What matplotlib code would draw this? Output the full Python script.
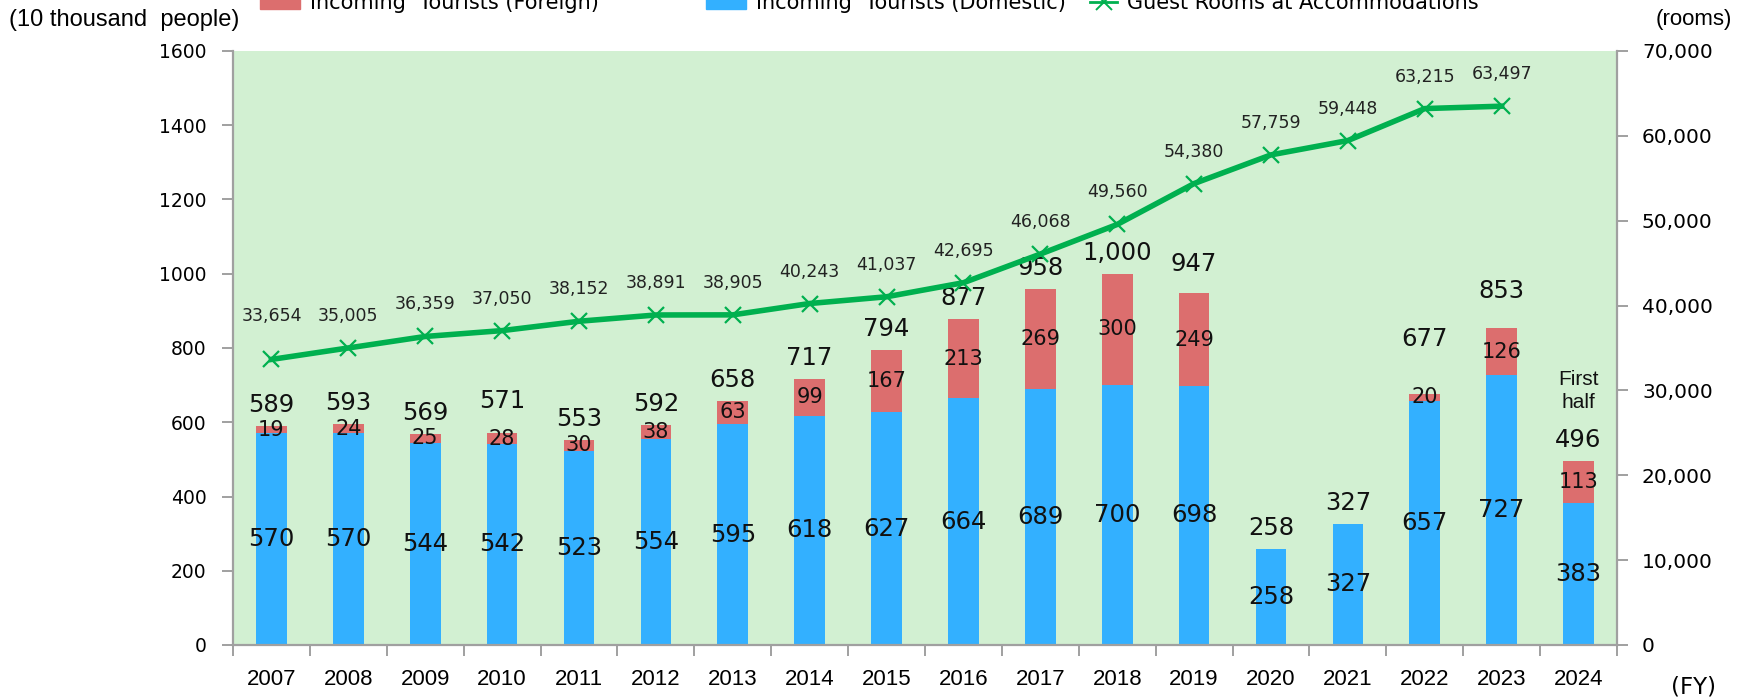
import numpy as np
import matplotlib
matplotlib.use('Agg')
import matplotlib.pyplot as plt
from matplotlib.patches import Patch
from matplotlib.lines import Line2D
from matplotlib.ticker import FuncFormatter, FixedLocator

# ---------------- data ----------------
years = [str(y) for y in range(2007, 2025)]
domestic = [570, 570, 544, 542, 523, 554, 595, 618, 627, 664, 689, 700, 698, 258, 327, 657, 727, 383]
foreign = [19, 24, 25, 28, 30, 38, 63, 99, 167, 213, 269, 300, 249, 0, 0, 20, 126, 113]
totals = [589, 593, 569, 571, 553, 592, 658, 717, 794, 877, 958, 1000, 947, 258, 327, 677, 853, 496]
rooms = [33654, 35005, 36359, 37050, 38152, 38891, 38905, 40243, 41037, 42695,
         46068, 49560, 54380, 57759, 59448, 63215, 63497]
left_ticks = [0, 200, 400, 600, 800, 1000, 1200, 1400, 1600]
right_ticks = [0, 10000, 20000, 30000, 40000, 50000, 60000, 70000]

# ---------------- style ----------------
C_DOM = '#33b0ff'
C_FOR = '#dc6e6e'
C_LINE = '#00b04f'
C_BG = '#d2f0d2'
C_AX = '#a0a0a0'
NUM_FONT = 'DejaVu Sans'
ARIAL = 'Liberation Sans'

# label nudges (pixels) for total labels
total_pad = {3: 32, 12: 29, 15: 55, 16: 37}
room_pad = {0: 43}

W, H = 1756, 700
fig = plt.figure(figsize=(W / 100, H / 100), dpi=100)
L, R, T, B = 233, 1617, 51, 645
ax = fig.add_axes([L / W, 1 - B / H, (R - L) / W, (B - T) / H])
ax.set_facecolor(C_BG)

x = np.arange(len(years))
bw = 0.40
ax.bar(x, domestic, width=bw, color=C_DOM, zorder=2)
ax.bar(x, foreign, bottom=domestic, width=bw, color=C_FOR, zorder=2)
ax.set_xlim(-0.5, len(years) - 0.5)
ax.set_ylim(0, 1600)

px2pt = 0.72
for i in range(len(years)):
    d = domestic[i]
    f = foreign[i]
    ax.text(x[i], d / 2, f'{d}', ha='center', va='center', fontsize=17.5,
            family=NUM_FONT, color='#111111', zorder=4)
    if f > 0:
        ax.text(x[i], d + f / 2, f'{f}', ha='center', va='center', fontsize=15,
                family=NUM_FONT, color='#111111', zorder=4)
    top = d + f
    pad = total_pad.get(i, 21)
    lab = f'{totals[i]:,}'
    ax.annotate(lab, (x[i], top), xytext=(0, pad * px2pt), textcoords='offset points',
                ha='center', va='center', fontsize=17.5, family=NUM_FONT,
                color='#111111', zorder=4)

# "First half" note for last bar
last = len(years) - 1
ax.annotate('First\nhalf', (x[last], domestic[last] + foreign[last]),
            xytext=(0, 70 * px2pt), textcoords='offset points', ha='center',
            va='center', fontsize=15, family=ARIAL, color='#111111',
            linespacing=1.25, zorder=4)

# axes styling (left)
ax.spines['top'].set_visible(False)
ax.spines['right'].set_visible(False)
for s in ['left', 'bottom']:
    ax.spines[s].set_color(C_AX)
    ax.spines[s].set_linewidth(1.6)
ax.yaxis.set_major_locator(FixedLocator(left_ticks))
ax.tick_params(axis='y', direction='out', length=8, width=1.4, color=C_AX,
               labelsize=13.5, pad=11)
for lbl in ax.get_yticklabels():
    lbl.set_family(NUM_FONT)
ax.set_xticks(x)
ax.set_xticklabels(years, family=ARIAL, fontsize=16)
ax.tick_params(axis='x', which='major', length=0, pad=17)
ax.set_xticks(np.arange(-0.5, len(years), 1.0), minor=True)
ax.tick_params(axis='x', which='minor', direction='out', length=8, width=1.4, color=C_AX)

# line on secondary axis
ax2 = ax.twinx()
xr = x[:len(rooms)]
ax2.plot(xr, rooms, color=C_LINE, lw=4, marker='x', ms=12, mew=1.6, zorder=3)
ax2.set_ylim(0, 70000)
ax2.set_xlim(-0.5, len(years) - 0.5)
for i, v in enumerate(rooms):
    pad = room_pad.get(i, 32)
    ax2.annotate(f'{v:,}', (xr[i], v), xytext=(0, pad * px2pt), textcoords='offset points',
                 ha='center', va='center', fontsize=12.5, family=NUM_FONT, color='#222222')
for s in ['top', 'left', 'bottom']:
    ax2.spines[s].set_visible(False)
ax2.spines['right'].set_color(C_AX)
ax2.spines['right'].set_linewidth(1.6)
ax2.yaxis.set_major_locator(FixedLocator(right_ticks))
ax2.yaxis.set_major_formatter(FuncFormatter(lambda v, p: f'{int(v):,}'))
ax2.tick_params(axis='y', direction='out', length=8, width=1.4, color=C_AX,
                labelsize=14.5, pad=10)
for lbl in ax2.get_yticklabels():
    lbl.set_family(NUM_FONT)

# unit labels
fig.text(9 / W, 1 - 20 / H, '(10 thousand  people)', ha='left', va='center',
         fontsize=17, family=ARIAL)
fig.text(1732 / W, 1 - 20 / H, '(rooms)', ha='right', va='center',
         fontsize=16, family=ARIAL)
fig.text(1716 / W, 1 - 687 / H, '(FY)', ha='right', va='center',
         fontsize=16.5, family=NUM_FONT)

# legend (partially cut off at the top edge, as in the reference)
leg_kw = dict(loc='center left', frameon=False, borderpad=0,
              borderaxespad=0, handletextpad=0.5,
              prop={'family': NUM_FONT, 'size': 15})
fig.legend(handles=[Patch(color=C_FOR)], labels=['Incoming  Tourists (Foreign)'],
           bbox_to_anchor=(260 / W, 0.996), handlelength=1.9, **leg_kw)
fig.legend(handles=[Patch(color=C_DOM)], labels=['Incoming  Tourists (Domestic)'],
           bbox_to_anchor=(706 / W, 0.996), handlelength=1.9, **leg_kw)
fig.legend(handles=[Line2D([0], [0], color=C_LINE, lw=2, marker='x', ms=11, mew=1.4)],
           labels=['Guest Rooms at Accommodations'],
           bbox_to_anchor=(1090 / W, 0.996), handlelength=1.3, **leg_kw)

fig.savefig('out.png', dpi=100)
